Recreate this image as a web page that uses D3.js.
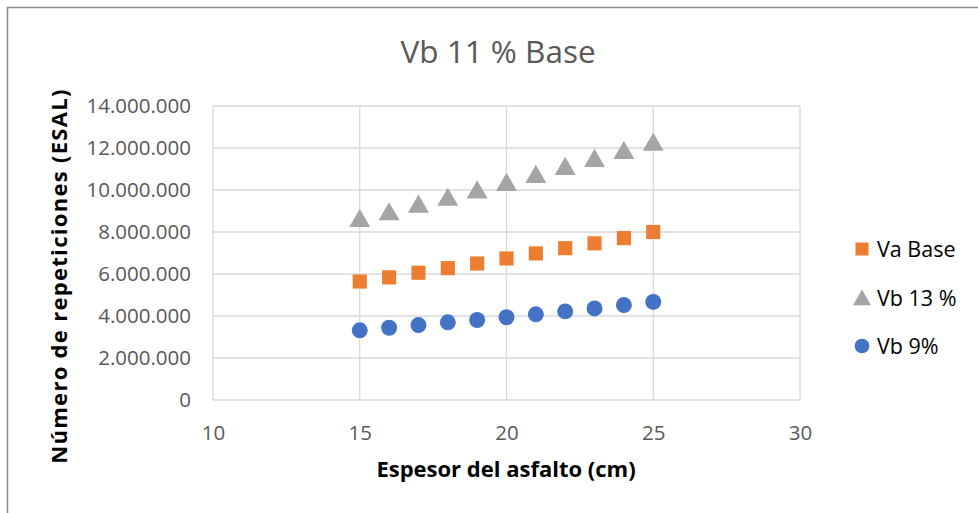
<!DOCTYPE html>
<html>
<head>
<meta charset="utf-8">
<script src="https://cdn.jsdelivr.net/npm/d3@7"></script>
<style>
  body { margin: 0; background: #fff; }
  svg { font-family: "Open Sans", "Liberation Sans", sans-serif; }
</style>
</head>
<body>
<div id="chart"></div>
<script>
// espesor (cm)
let espesor = [15, 16, 17, 18, 19, 20, 21, 22, 23, 24, 25];
let vaBase = [5640000, 5840000, 6060000, 6280000, 6500000, 6740000, 6980000, 7230000, 7460000, 7710000, 8000000];
let vb13 = [8620000, 8940000, 9300000, 9630000, 9980000, 10340000, 10720000, 11100000, 11480000, 11860000, 12250000];
let vb9 = [3320000, 3440000, 3570000, 3700000, 3810000, 3940000, 4080000, 4220000, 4360000, 4520000, 4670000];
let xTicks = [10, 15, 20, 25, 30];
let yTicks = [0, 2000000, 4000000, 6000000, 8000000, 10000000, 12000000, 14000000];
let seriesNames = ['Va Base', 'Vb 13 %', 'Vb 9%'];

let width = 978, height = 513;
let plotLeft = 213, plotRight = 800, plotTop = 106, plotBottom = 400;

let svg = d3.select('#chart').append('svg')
  .attr('width', width)
  .attr('height', height);

// chart border
svg.append('rect')
  .attr('x', 7.5).attr('y', 7.5)
  .attr('width', 1000).attr('height', 1000)
  .attr('fill', 'none')
  .attr('stroke', '#8c8c8c')
  .attr('stroke-width', 1.5);

let x = d3.scaleLinear().domain([10, 30]).range([plotLeft, plotRight]);
let y = d3.scaleLinear().domain([0, 14000000]).range([plotBottom, plotTop]);

let fmt = v => d3.format(',')(v).replace(/,/g, '.');

// gridlines
svg.append('g').selectAll('line').data(yTicks).enter().append('line')
  .attr('x1', plotLeft).attr('x2', plotRight)
  .attr('y1', d => y(d)).attr('y2', d => y(d))
  .style('stroke', '#d9d9d9').style('stroke-width', 1.3);
svg.append('g').selectAll('line').data(xTicks).enter().append('line')
  .attr('x1', d => x(d)).attr('x2', d => x(d))
  .attr('y1', plotTop).attr('y2', plotBottom)
  .style('stroke', '#d9d9d9').style('stroke-width', 1.3);

// axes (labels only)
let yAxis = svg.append('g')
  .attr('transform', 'translate(' + (plotLeft - 10) + ',0)')
  .call(d3.axisLeft(y).tickValues(yTicks).tickFormat(fmt).tickSize(0).tickPadding(12));
let xAxis = svg.append('g')
  .attr('transform', 'translate(0,' + (plotBottom + 17) + ')')
  .call(d3.axisBottom(x).tickValues(xTicks).tickSize(0).tickPadding(8));
[yAxis, xAxis].forEach(a => {
  a.select('.domain').remove();
  a.selectAll('text')
    .attr('font-family', '"Open Sans", sans-serif')
    .attr('font-size', '20.5px')
    .attr('fill', '#595959');
});

// title
svg.append('text')
  .attr('x', 498).attr('y', 63)
  .attr('text-anchor', 'middle')
  .attr('font-size', '31.5px')
  .attr('fill', '#595959')
  .text('Vb 11 % Base');

// axis titles
svg.append('text')
  .attr('x', 506).attr('y', 477)
  .attr('text-anchor', 'middle')
  .attr('font-size', '22px')
  .attr('font-weight', 'bold')
  .attr('fill', '#000')
  .text('Espesor del asfalto (cm)');
svg.append('text')
  .attr('transform', 'translate(67,276) rotate(-90)')
  .attr('text-anchor', 'middle')
  .attr('font-size', '22px')
  .attr('font-weight', 'bold')
  .attr('letter-spacing', '1.3px')
  .attr('fill', '#000')
  .text('Número de repeticiones (ESAL)');

// series
let colors = ['#ed7d31', '#a5a5a5', '#4472c4'];
let shapes = [d3.symbolSquare, d3.symbolTriangle, d3.symbolCircle];
let sizes = [200, 190, 200];
let allSeries = [vaBase, vb13, vb9];

allSeries.forEach((vals, i) => {
  let sym = d3.symbol().type(shapes[i]).size(sizes[i]);
  svg.append('g').selectAll('path').data(vals).enter().append('path')
    .attr('d', sym)
    .attr('transform', (d, j) => 'translate(' + x(espesor[j]) + ',' + (y(d) + (i === 1 ? 2 : 0)) + ')')
    .attr('fill', colors[i]);
});

// legend
let legendY = [249, 298, 346];
seriesNames.forEach((name, i) => {
  let sym = d3.symbol().type(shapes[i]).size(i === 1 ? 140 : 170);
  svg.append('path')
    .attr('d', sym)
    .attr('transform', 'translate(862,' + (legendY[i] + (i === 1 ? 2 : 0)) + ')')
    .attr('fill', colors[i]);
  svg.append('text')
    .attr('x', 877).attr('y', legendY[i] + 8)
    .attr('font-size', '21.5px')
    .attr('fill', '#000')
    .text(name);
});
</script>
</body>
</html>
